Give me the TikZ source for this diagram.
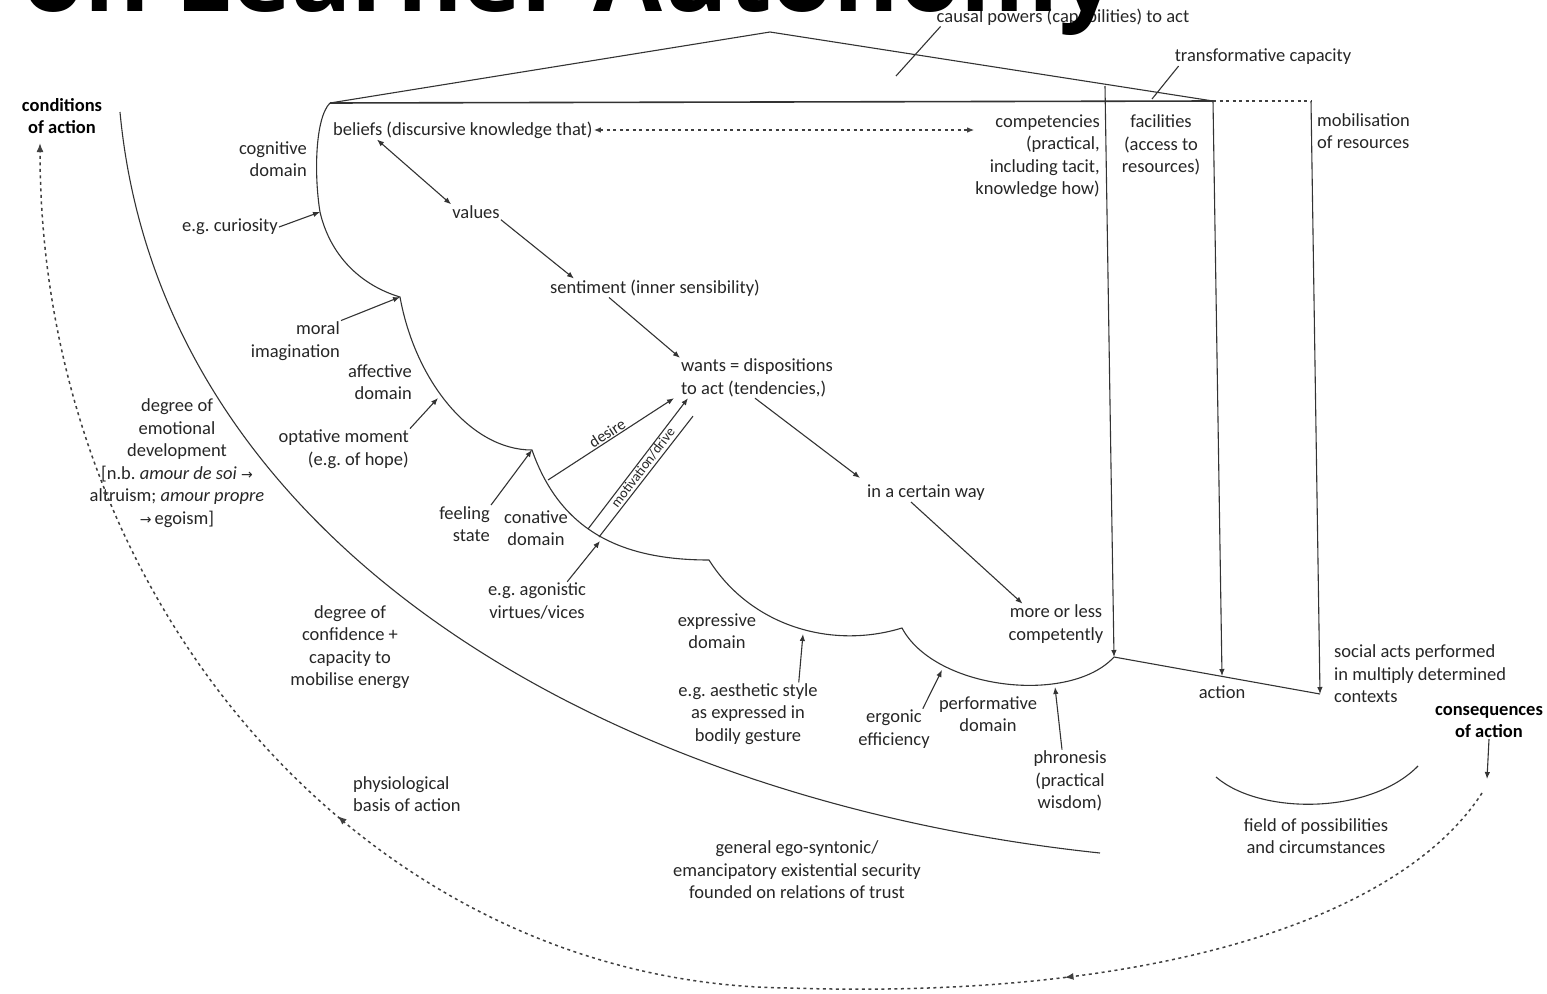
\documentclass[tikz,border=0pt]{standalone}
\usepackage{fontspec}
\setmainfont{Carlito}
\newfontfamily\titlefont{Open Sans}
\newfontfamily\arrowfont{DejaVu Sans}
\usetikzlibrary{arrows.meta}
\usetikzlibrary{decorations.markings}

\newcommand{\ra}{{\arrowfont\fontsize{14}{22.5}\selectfont →}}

\begin{document}
\begin{tikzpicture}[x=1pt,y=-1pt,
    >={Latex[length=7pt,width=5.5pt]},
    lbl/.style={inner sep=1pt, text=black!85, font=\fontsize{18.5}{22.5}\selectfont},
    head/.style={inner sep=1pt, text=black, font=\bfseries\fontsize{18.5}{22.5}\selectfont},
    ln/.style={draw=black!80, line width=1.1pt},
    dots/.style={draw=black!75, line width=1.5pt, dash pattern=on 3pt off 3.5pt}]

    \useasboundingbox (0,0) rectangle (1547,993);
    \clip (0,0) rectangle (1547,993);

    % Roof
    \coordinate (roofl) at (330,103);
    \coordinate (apex) at (770,32);
    \coordinate (roofr) at (1213,101);
    \coordinate (mobtop) at (1311,101);
    \coordinate (comptop) at (1105,86);
    \draw[ln] (roofl) -- (apex) -- (roofr);
    \draw[ln, line width=1.6pt] (roofl) -- (roofr);
    \draw[dots] (roofr) -- (mobtop);

    \node[lbl] (causal) at (1063,17) {causal powers (capabilities) to act};
    \node[lbl] (transf) at (1263,57) {transformative capacity};
    \coordinate (cpw) at (896,76);
    \coordinate (tcp) at (1152,99);
    \draw[ln] ([xshift=5pt]causal.south west) -- (cpw);
    \draw[ln] ([xshift=5pt]transf.south west) -- (tcp);

    % Cloud of domains
    \coordinate (cur) at (320,212);
    \coordinate (k1) at (400,297);
    \coordinate (k2) at (532,450);
    \coordinate (k3) at (709,560);
    \coordinate (k4) at (902,628);
    \coordinate (cend) at (1114,657);
    \draw[ln] (roofl) .. controls (315,118) and (314,175) .. (cur)
        .. controls (330,255) and (360,285) .. (k1)
        .. controls (415,380) and (470,450) .. (k2)
        .. controls (560,530) and (620,560) .. (k3)
        .. controls (750,625) and (830,650) .. (k4)
        .. controls (935,690) and (1070,705) .. (cend);

    % Columns down to action
    \coordinate (acttip) at (1222,676);
    \coordinate (socend) at (1320,694);
    \draw[ln,->] (comptop) -- (cend);
    \draw[ln,->] (roofr) -- (acttip);
    \draw[ln,->] (mobtop) -- (socend);
    \draw[ln] (cend) -- (socend);

    % Labels
    \node[lbl, anchor=west] (beliefs) at (332,130) {beliefs (discursive knowledge that)};
    \node[lbl, anchor=east, align=right] (competencies) at (1101,156) {competencies\\(practical,\\including tacit,\\knowledge how)};
    \node[lbl, align=center] (facilities) at (1161,145) {facilities\\(access to\\resources)};
    \node[lbl, anchor=west, align=left] (mobilisation) at (1316,131) {mobilisation\\of resources};
    \node[head, align=center] (conditions) at (62,116) {conditions\\of action};
    \node[lbl, anchor=east, align=right] (cognitive) at (308,159) {cognitive\\domain};
    \node[lbl] (curiosity) at (230,227) {e.g.\ curiosity};
    \node[lbl] (values) at (476,212) {values};
    \node[lbl] (sentiment) at (655,288) {sentiment (inner sensibility)};
    \node[lbl, anchor=east, align=right] (moral) at (341,341) {moral\\imagination};
    \node[lbl, anchor=east, align=right] (affective) at (413,382) {affective\\domain};
    \node[lbl, anchor=west, align=left] (wants) at (680,378) {wants = dispositions\\to act (tendencies,)};
    \node[lbl, anchor=east, align=right] (optative) at (410,449) {optative moment\\(e.g.\ of hope)};
    \node[lbl, align=center] (emotional) at (177,463) {degree of\\emotional\\development\\{[}n.b.\ \emph{amour de soi} \ra\\altruism; \emph{amour propre}\\\ra\,egoism{]}};
    \node[lbl, anchor=east, align=right] (feeling) at (491,524) {feeling\\state};
    \node[lbl, align=center] (conative) at (536,528) {conative\\domain};
    \node[lbl] (way) at (926,493) {in a certain way};
    \node[lbl, align=center] (agonistic) at (537,601) {e.g.\ agonistic\\virtues/vices};
    \node[lbl, align=center] (confidence) at (350,647) {degree of\\confidence +\\capacity to\\mobilise energy};
    \node[lbl, align=center] (expressive) at (717,631) {expressive\\domain};
    \node[lbl, align=center] (competently) at (1056,624) {more or less\\competently};
    \node[lbl, anchor=west, align=left] (social) at (1333,674) {social acts performed\\in multiply determined\\contexts};
    \node[lbl] (action) at (1222,692) {action};
    \node[lbl, align=center] (aesthetic) at (748,714) {e.g.\ aesthetic style\\as expressed in\\bodily gesture};
    \node[lbl, align=center] (ergonic) at (894,729) {ergonic\\efficiency};
    \node[lbl, align=center] (performative) at (988,714) {performative\\domain};
    \node[head, align=center] (consequences) at (1489,722) {consequences\\of action};
    \node[lbl, align=center] (phronesis) at (1070,781) {phronesis\\(practical\\wisdom)};
    \node[lbl, anchor=west, align=left] (physiological) at (352,794) {physiological\\basis of action};
    \node[lbl, align=center] (field) at (1316,836) {field of possibilities\\and circumstances};
    \node[lbl, align=center] (general) at (797,870) {general ego-syntonic/\\emancipatory existential security\\founded on relations of trust};

    % Chain of arrows
    \draw[dots, line width=1.2pt, <->] (beliefs.east) -- (competencies.north west |- beliefs.east);
    \draw[ln, <->] ([xshift=45pt]beliefs.south west) -- (values.north west);
    \draw[ln, ->] (values.south east) -- ([xshift=25pt]sentiment.north west);
    \draw[ln, ->] ([xshift=60pt]sentiment.south west) -- (wants.north west);
    \draw[ln, ->] ([xshift=75pt]wants.south west) -- ([shift={(-6,-6)}]way.north west);
    \draw[ln, ->] ([xshift=45pt]way.south west) -- ([xshift=15pt]competently.north west);

    % Arrows onto the cloud
    \coordinate (opt) at (438,398);
    \coordinate (des) at (548,480);
    \coordinate (mot) at (588,529);
    \coordinate (ago) at (600,541);
    \coordinate (aes) at (803,634);
    \coordinate (erg) at (942,670);
    \coordinate (phr) at (1055,687);
    \draw[ln, ->] (curiosity.east) -- (cur);
    \draw[ln, ->] (moral.north east) -- (k1);
    \draw[ln, ->] (optative.north east) -- (opt);
    \draw[ln, ->] (feeling.north east) -- (k2);
    \draw[ln, ->] (des) -- node[lbl, sloped, above, font=\fontsize{16}{18}\selectfont] (desire) {desire} ([xshift=-6pt]wants.south west);
    \draw[ln, ->] (mot) -- node[lbl, sloped, below, inner sep=0.5pt, font=\fontsize{14}{16}\selectfont] (motivation) {motivation/drive} ([xshift=8pt]wants.south west);
    \draw[ln] ([shift={(11,8)}]mot) -- ([shift={(13,18)}]wants.south west);
    \draw[ln, ->] ([xshift=-20pt]agonistic.north east) -- (ago);
    \draw[ln, ->] ([xshift=-20pt]aesthetic.north east) -- (aes);
    \draw[ln, ->] ([xshift=-8pt]ergonic.north east) -- (erg);
    \draw[ln, ->] ([xshift=-8pt]phronesis.north) -- (phr);

    % Outer arcs
    \coordinate (arcl) at (120,112);
    \coordinate (arcr) at (1100,853);
    \draw[ln] (arcl) .. controls (160,540) and (600,800) .. (arcr);
    \coordinate (fa) at (1216,777);
    \coordinate (fb) at (1418,766);
    \draw[ln] (fa) .. controls (1260,815) and (1370,815) .. (fb);

    % Feedback loop
    \coordinate (cq) at (1487,779);
    \coordinate (loopa) at (1482,793);
    \coordinate (loopb) at (790,988);
    \coordinate (condtip) at (40,143);
    \draw[ln, ->] (consequences.south) -- (cq);
    \draw[dots, -{Latex[length=9pt,width=7pt]}, postaction={decorate}, decoration={markings,
        mark=at position 0.235 with {\arrow{Latex[length=9pt,width=7pt]}},
        mark=at position 0.62 with {\arrow{Latex[length=9pt,width=7pt]}}}]
        (loopa) .. controls (1400,920) and (1150,1000) .. (loopb)
        .. controls (372,985) and (40,606) .. (condtip);

    % Title
    \node[anchor=base west, inner sep=0pt, font=\titlefont\bfseries\fontsize{100}{100}\selectfont] (title) at (22,11) {on Learner Autonomy};
\end{tikzpicture}
\end{document}
